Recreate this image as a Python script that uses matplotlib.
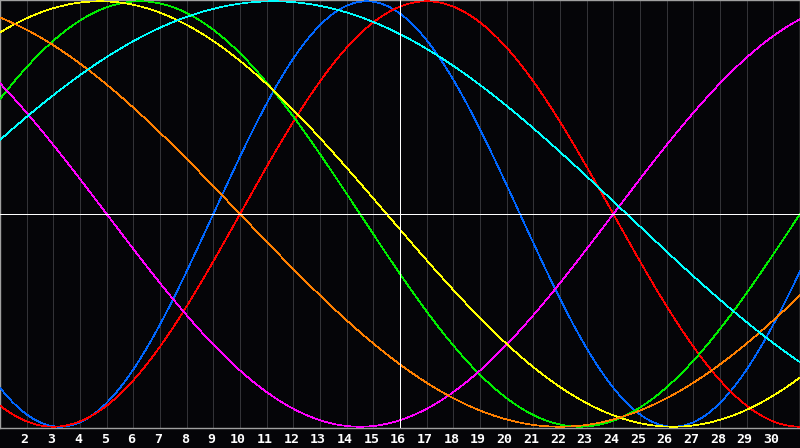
import numpy as np
import matplotlib
matplotlib.use("Agg")
import matplotlib.pyplot as plt

# ---- data ----
days = list(range(1, 32))            # days of the month shown (1..31)
day_labels = list(range(2, 31))      # tick labels printed under the chart
today = 16
days_since_birth_day1 = 20991        # age in days on day 1
cycle_names = ["Physical", "Emotional", "Intellectual", "Intuitive",
               "Aesthetic", "Awareness", "Spiritual"]
cycle_periods = [23, 28, 33, 38, 43, 48, 53]
cycle_colors = ["#0066ff", "#ff0000", "#00ee00", "#ff00ff",
                "#ffff00", "#ff8000", "#00ffff"]

W, H, DPI = 800, 448, 100
bg = "#050508"
fig = plt.figure(figsize=(W / DPI, H / DPI), dpi=DPI, facecolor=bg)
ax = fig.add_axes([0, 20 / H, 1, 428 / H], facecolor=bg)

t = np.linspace(days[0], days[-1], 1600)
for name, p, c in zip(cycle_names, cycle_periods, cycle_colors):
    v = np.sin(2 * np.pi * (t - days[0] + days_since_birth_day1) / p)
    ax.plot(t, v, color=c, lw=0.5, antialiased=False, zorder=3)

for d in days[1:-1]:
    ax.axvline(d, color="#333337", lw=0.6, zorder=1, antialiased=False)
ax.axvline(today, color="white", lw=0.7, zorder=4, antialiased=False)
ax.axhline(0, color="white", lw=0.7, zorder=4, antialiased=False)

ax.set_xlim(days[0], days[-1])
ax.set_ylim(-1.006, 1.006)
ax.set_xticks([]); ax.set_yticks([])
for s in ax.spines.values():
    s.set_color("#a0a0a0"); s.set_linewidth(1.0)

for d in day_labels:
    xf = (d - days[0]) / (days[-1] - days[0]) - 2 / W
    fig.text(xf, 9 / H, str(d), color="white", ha="center", va="center",
             fontsize=9.5, fontweight="bold", family="DejaVu Sans Mono")

fig.savefig("out.png", dpi=DPI, facecolor=bg)
